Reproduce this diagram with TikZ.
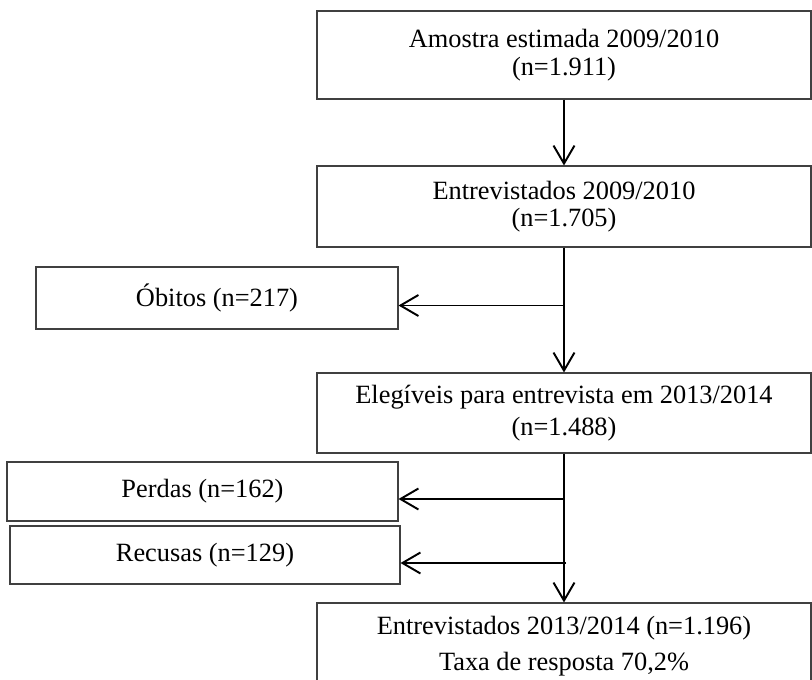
\documentclass[tikz,border=0pt]{standalone}
\usepackage{fontspec}
\setmainfont{Liberation Serif}
\usepackage{tikz}
\usetikzlibrary{arrows.meta,calc,positioning}
\tikzstyle{line} = [draw, line width=1.1pt, -{Straight Barb[length=0.36cm, width=0.42cm, line width=1.1pt]}]
\tikzstyle{block} = [draw=black!75, line width=0.6pt, rectangle, align=center, font=\fontsize{15}{15.6}\selectfont]
\tikzstyle{mainblock} = [block, minimum width=9.88cm]

\begin{document}
\begin{tikzpicture}[node distance=3cm, auto]
        \useasboundingbox (0,0) rectangle (16.24,-13.6);
        \node[mainblock, minimum height=1.76cm] at (11.28,-1.10) (amostra) {Amostra estimada 2009/2010\\(n=1.911)};
        \node[mainblock, minimum height=1.62cm, below of=amostra, node distance=3.03cm] (ent1) {Entrevistados 2009/2010\\(n=1.705)};
        \node[mainblock, minimum height=1.60cm, below of=ent1, node distance=4.13cm] (eleg) {Elegíveis para entrevista em 2013/2014\\[3pt](n=1.488)};
        \node[mainblock, minimum height=1.72cm, below of=eleg, node distance=4.66cm] (ent2) {Entrevistados 2013/2014 (n=1.196)\\[5pt]Taxa de resposta 70,2\%};
        \node[block, minimum width=7.24cm, minimum height=1.24cm] at (4.34,-5.96) (obitos) {Óbitos (n=217)};
        \node[block, minimum width=7.82cm, minimum height=1.18cm] at (4.05,-9.83) (perdas) {Perdas (n=162)};
        \node[block, minimum width=7.80cm, minimum height=1.16cm] at (4.10,-11.10) (recusas) {Recusas (n=129)};
        \path[line] (amostra) -- (ent1);
        \path[line] (ent1) -- (eleg);
        \path[line] ($(ent1.south |- obitos.east)+(0,-0.15)$) -- ($(obitos.east)+(0,-0.15)$);
        \path[line] (eleg) -- (ent2);
        \path[line] ($(eleg.south |- perdas.east)+(0,-0.15)$) -- ($(perdas.east)+(0,-0.15)$);
        \path[line] ($(eleg.south |- recusas.east)+(0.04,-0.16)$) -- ($(recusas.east)+(0,-0.16)$);
    \end{tikzpicture}
\end{document}
